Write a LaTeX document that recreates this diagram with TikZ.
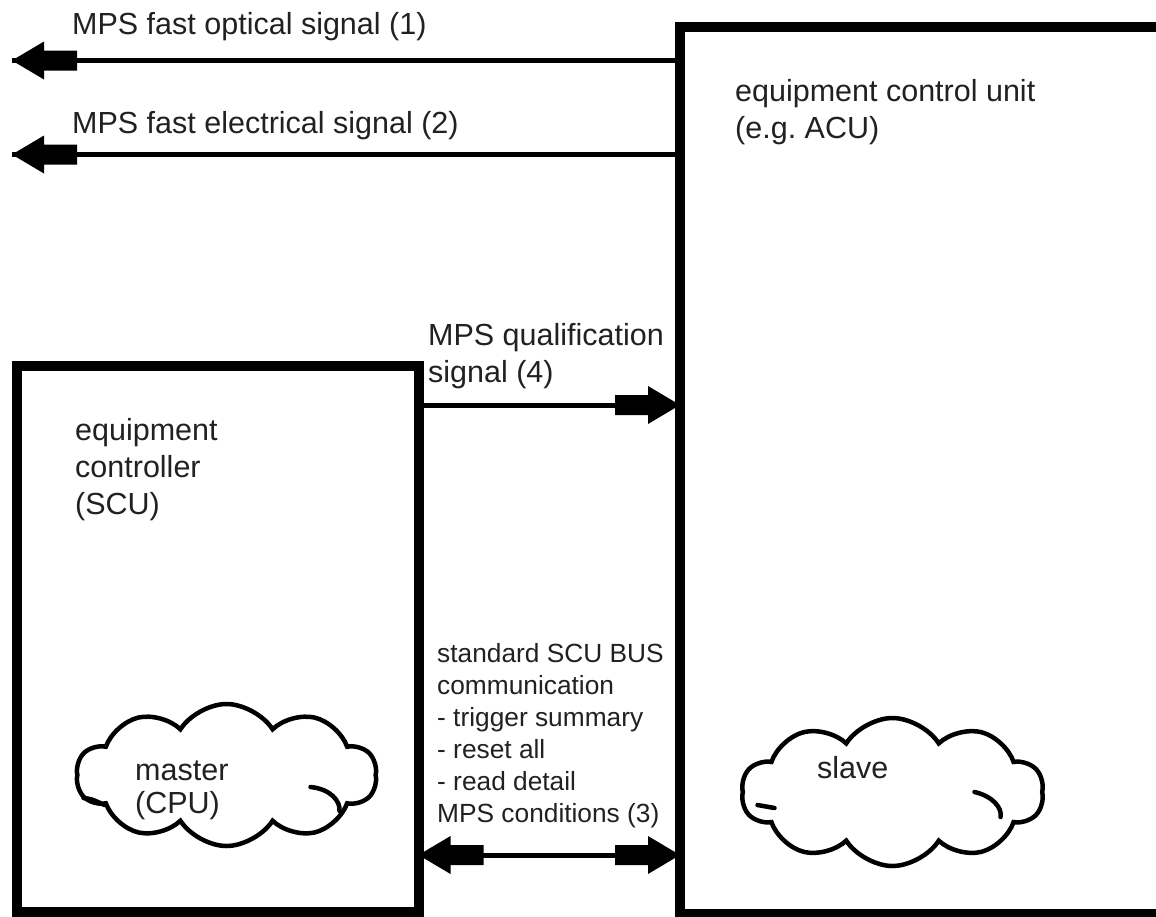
\documentclass[tikz,border=0pt]{standalone}
\usepackage{fontspec}
\setmainfont{Liberation Sans}
\usetikzlibrary{shapes.symbols,calc}
\definecolor{txt}{gray}{0.13}
\frenchspacing
\tikzset{
  x=1pt, y=-1pt,
  box/.style={draw=black, line width=10, rectangle, inner sep=0, outer sep=0},
  conn/.style={draw=black, line width=5},
  puff/.style={draw=black, line width=4.5, cloud, cloud puffs=10, cloud puff arc=115, aspect=2.1, inner sep=0, fill=white},
  curl/.style={draw=black, line width=4.5, line cap=round},
  bigtext/.style={font=\fontsize{30.5}{37}\selectfont, text=txt, inner sep=0, anchor=base west, align=left},
  smalltext/.style={font=\fontsize{26.3}{32}\selectfont, text=txt, inner sep=0, anchor=base west, align=left},
  bighead/.pic={\fill[black] (0,0) -- (-32,-19) -- (-32,-10) -- (-65,-10) -- (-65,10) -- (-32,10) -- (-32,19) -- cycle;}
}
\begin{document}
\begin{tikzpicture}
\clip (0,0) rectangle (1156,916);
\fill[white] (0,0) rectangle (1156,916);

% boxes
\node[box, minimum width=520, minimum height=887] (ecu) at (940,470.5) {};
\node[box, minimum width=401.5, minimum height=546.5] (scu) at (217.75,638.75) {};

% clouds
\node[puff, minimum width=300, minimum height=142] (master) at (226.5,775) {};
\node[puff, minimum width=302, minimum height=148] (slave) at (892.5,792) {};
\draw[curl] ($(master.center)+(84,12)$) .. controls ($(master.center)+(104,14)$) and ($(master.center)+(114,26)$) .. ($(master.center)+(113,36)$);
\draw[curl] ($(master.center)+(-143,23)$) .. controls ($(master.center)+(-135,24)$) .. ($(master.center)+(-122,30)$);
\draw[curl] ($(slave.center)+(82,0)$) .. controls ($(slave.center)+(100,4)$) and ($(slave.center)+(110,16)$) .. ($(slave.center)+(108,25)$);
\draw[curl] ($(slave.center)+(-135,13)$) .. controls ($(slave.center)+(-127,14)$) .. ($(slave.center)+(-118,16)$);

% connector end points
\coordinate (t1) at (12,60.5);
\coordinate (t2) at (12,154.5);
\coordinate (y4) at (0,405);
\coordinate (y3) at (0,855);
\coordinate (e1) at (ecu.west |- t1);
\coordinate (e2) at (ecu.west |- t2);
\coordinate (s4) at (scu.east |- y4);
\coordinate (e4) at (ecu.west |- y4);
\coordinate (s3) at (scu.east |- y3);
\coordinate (e3) at (ecu.west |- y3);

% connectors
\draw[conn] (e1) -- (t1);
\pic[rotate=180] at (t1) {bighead};
\draw[conn] (e2) -- (t2);
\pic[rotate=180] at (t2) {bighead};
\draw[conn] (s4) -- (e4);
\pic at (e4) {bighead};
\draw[conn] (s3) -- (e3);
\pic at (e3) {bighead};
\pic[rotate=180] at (s3) {bighead};

% labels (base anchor = baseline of last line)
\node[bigtext] (l1) at (72,34) {MPS fast optical signal (1)};
\node[bigtext] (l2) at (72,133) {MPS fast electrical signal (2)};
\node[bigtext] (ecutext) at (735,138) {equipment control unit\\(e.g. ACU)};
\node[bigtext] (l4) at (428,382) {MPS qualification\\signal (4)};
\node[bigtext] (scutext) at (75,514) {equipment\\controller\\(SCU)};
\node[bigtext, font=\fontsize{30.5}{33}\selectfont] (mastertext) at (135,813) {master\\(CPU)};
\node[bigtext] (slavetext) at (817,778) {slave};
\node[smalltext] (l3) at (437,822) {standard SCU BUS\\communication\\- trigger summary\\- reset all\\- read detail\\MPS conditions (3)};
\end{tikzpicture}
\end{document}
